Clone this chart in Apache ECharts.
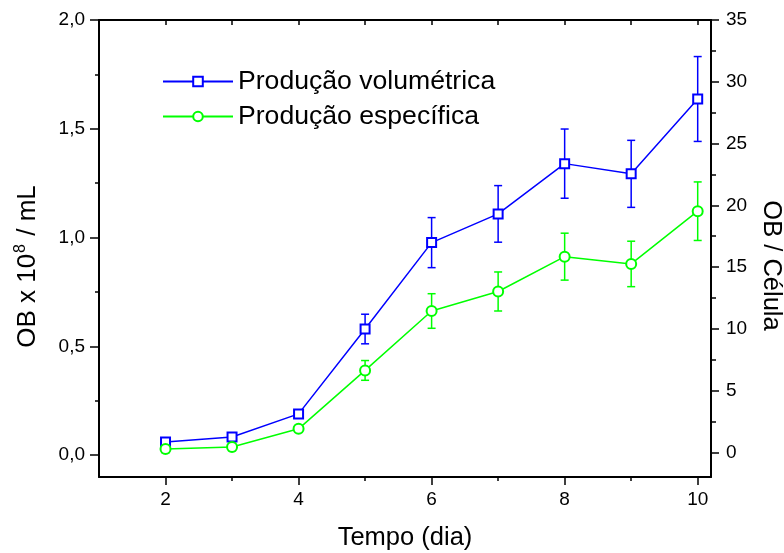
<!DOCTYPE html>
<html>
<head>
<meta charset="utf-8">
<script src="https://cdn.jsdelivr.net/npm/echarts@6/dist/echarts.min.js"></script>
<style>
  html, body { margin: 0; padding: 0; background: #fff; }
  #chart { width: 784px; height: 553px; }
</style>
</head>
<body>
<div id="chart"></div>
<script>
const days = [2, 3, 4, 5, 6, 7, 8, 9, 10]
const volumetrica = [0.061, 0.084, 0.19, 0.58, 0.977, 1.109, 1.34, 1.293, 1.637]
const volumetricaErr = [0.015, 0.012, 0.01, 0.068, 0.115, 0.13, 0.159, 0.154, 0.195]
const especifica = [0.27, 0.43, 1.9, 6.63, 11.44, 13.02, 15.84, 15.25, 19.52]
const especificaErr = [0.3, 0.3, 0.2, 0.8, 1.4, 1.58, 1.9, 1.84, 2.37]

const xMajor = [2, 4, 6, 8, 10]
const xMinor = [3, 5, 7, 9]
const xTop = [2, 3, 4, 5, 6, 7, 8, 9, 10]
const leftMajor = [0, 0.5, 1, 1.5, 2]
const leftMinor = [0.25, 0.75, 1.25, 1.75]
const rightMajor = [0, 5, 10, 15, 20, 25, 30, 35]
const rightMinor = [2.5, 7.5, 12.5, 17.5, 22.5, 27.5, 32.5]

const BLUE = '#0000ff'
const GREEN = '#00ff00'
const FONT = '"Liberation Sans", Arial, sans-serif'

const chart = echarts.init(document.getElementById('chart'))

const pairs = (ys) => days.map((d, i) => [d, ys[i]])
const triples = (ys, es) => days.map((d, i) => [d, ys[i], es[i]])

// vertical whisker with small caps, drawn under the markers
const errorBars = (color) => (params, api) => {
  const x = api.value(0)
  const y = api.value(1)
  const e = api.value(2)
  const top = api.coord([x, y + e])
  const bot = api.coord([x, y - e])
  const half = 4
  const style = { stroke: color, lineWidth: 1.5 }
  return {
    type: 'group',
    children: [
      { type: 'line', shape: { x1: top[0], y1: top[1], x2: bot[0], y2: bot[1] }, style },
      { type: 'line', shape: { x1: top[0] - half, y1: top[1], x2: top[0] + half, y2: top[1] }, style },
      { type: 'line', shape: { x1: bot[0] - half, y1: bot[1], x2: bot[0] + half, y2: bot[1] }, style }
    ]
  }
}

const axisLine = { show: true, onZero: false, lineStyle: { color: '#000', width: 2 } }
const noLine = { show: false, onZero: false }
const tickStyle = { color: '#000', width: 1.5 }
const commaFmt = (v) => v.toFixed(1).replace('.', ',')

const option = {
  animation: false,
  grid: {
    left: 99,
    right: 73,
    top: 20,
    bottom: 76,
    outerBoundsMode: 'none'
  },
  legend: {
    orient: 'vertical',
    left: 162,
    top: 68,
    padding: 0,
    itemWidth: 70,
    itemHeight: 12,
    itemGap: 8,
    data: ['Produção volumétrica', 'Produção específica'],
    textStyle: { color: '#000', fontSize: 26.6, fontFamily: FONT }
  },
  xAxis: [
    {
      type: 'value',
      position: 'bottom',
      min: 1,
      max: 10.2,
      axisLine,
      axisTick: { show: true, customValues: xMajor, length: 8, lineStyle: tickStyle },
      axisLabel: { customValues: xMajor, margin: 13, color: '#000', fontSize: 19, fontFamily: FONT },
      splitLine: { show: false },
      name: 'Tempo (dia)',
      nameLocation: 'middle',
      nameGap: 48,
      nameTextStyle: { color: '#000', fontSize: 25.5, fontFamily: FONT }
    },
    {
      type: 'value',
      position: 'bottom',
      min: 1,
      max: 10.2,
      axisLine: noLine,
      axisTick: { show: true, customValues: xMinor, length: 4, lineStyle: tickStyle },
      axisLabel: { show: false },
      splitLine: { show: false }
    },
    {
      type: 'value',
      position: 'top',
      min: 1,
      max: 10.2,
      axisLine,
      axisTick: { show: true, inside: true, customValues: xTop, length: 5, lineStyle: tickStyle },
      axisLabel: { show: false },
      splitLine: { show: false }
    }
  ],
  yAxis: [
    {
      type: 'value',
      position: 'left',
      min: -0.1,
      max: 2,
      axisLine,
      axisTick: { show: true, customValues: leftMajor, length: 9, lineStyle: tickStyle },
      axisLabel: { customValues: leftMajor, margin: 14, color: '#000', fontSize: 19, fontFamily: FONT, formatter: commaFmt },
      splitLine: { show: false },
      name: 'OB x 10{sup|8} / mL',
      nameLocation: 'middle',
      nameGap: 57,
      nameRotate: 90,
      nameTextStyle: {
        color: '#000',
        fontSize: 26,
        fontFamily: FONT,
        padding: [0, 36, 0, 0],
        rich: { sup: { fontSize: 16, fontFamily: FONT, color: '#000', verticalAlign: 'top', padding: [0, 1, 13, 1] } }
      }
    },
    {
      type: 'value',
      position: 'right',
      offset: 0,
      min: -2,
      max: 35,
      axisLine,
      axisTick: { show: true, customValues: rightMajor, length: 8, lineStyle: tickStyle },
      axisLabel: { customValues: rightMajor, margin: 15, color: '#000', fontSize: 19, fontFamily: FONT },
      splitLine: { show: false },
      name: 'OB / Célula',
      nameLocation: 'middle',
      nameGap: 40,
      nameRotate: -90,
      nameTextStyle: { color: '#000', fontSize: 25.5, fontFamily: FONT, padding: [0, 0, 0, 34] }
    },
    {
      type: 'value',
      position: 'left',
      offset: 0,
      min: -0.1,
      max: 2,
      axisLine: noLine,
      axisTick: { show: true, customValues: leftMinor, length: 4, lineStyle: tickStyle },
      axisLabel: { show: false },
      splitLine: { show: false }
    },
    {
      type: 'value',
      position: 'right',
      offset: 0,
      min: -2,
      max: 35,
      axisLine: noLine,
      axisTick: { show: true, customValues: rightMinor, length: 5, lineStyle: tickStyle },
      axisLabel: { show: false },
      splitLine: { show: false }
    }
  ],
  series: [
    {
      name: 'err-vol',
      type: 'custom',
      xAxisIndex: 0,
      yAxisIndex: 0,
      renderItem: errorBars(BLUE),
      data: triples(volumetrica, volumetricaErr),
      encode: { x: 0, y: 1 },
      z: 1,
      silent: true
    },
    {
      name: 'err-esp',
      type: 'custom',
      xAxisIndex: 0,
      yAxisIndex: 1,
      renderItem: errorBars(GREEN),
      data: triples(especifica, especificaErr),
      encode: { x: 0, y: 1 },
      z: 1,
      silent: true
    },
    {
      name: 'Produção volumétrica',
      type: 'line',
      xAxisIndex: 0,
      yAxisIndex: 0,
      data: pairs(volumetrica),
      symbol: 'emptyRect',
      symbolSize: 9,
      lineStyle: { color: BLUE, width: 1.5 },
      itemStyle: { color: BLUE, borderWidth: 1.5 },
      z: 3
    },
    {
      name: 'Produção específica',
      type: 'line',
      xAxisIndex: 0,
      yAxisIndex: 1,
      data: pairs(especifica),
      symbol: 'emptyCircle',
      symbolSize: 10,
      lineStyle: { color: GREEN, width: 1.5 },
      itemStyle: { color: GREEN, borderWidth: 1.5 },
      z: 3
    }
  ]
}

chart.setOption(option)
</script>
</body>
</html>
